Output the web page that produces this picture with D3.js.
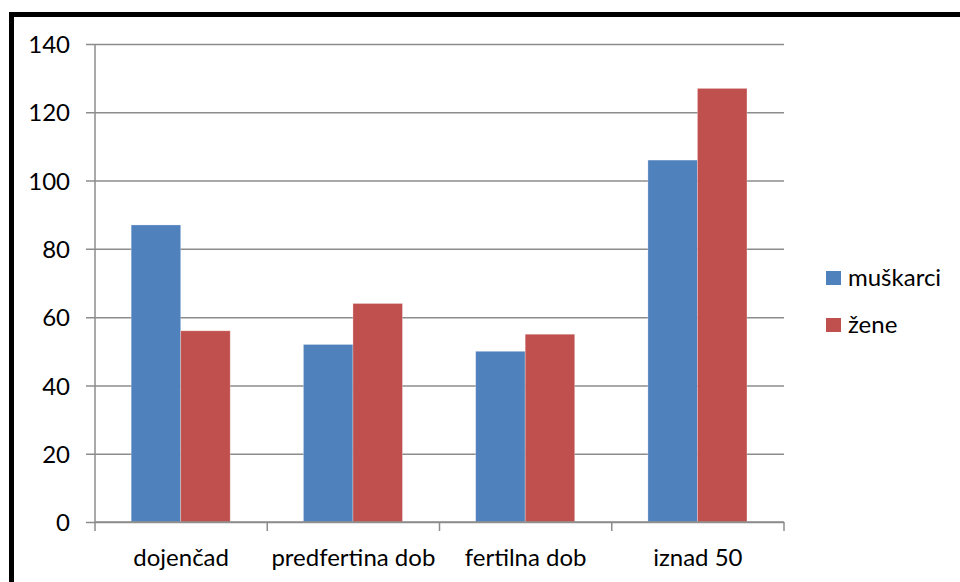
<!DOCTYPE html>
<html>
<head>
<meta charset="utf-8">
<script src="https://cdn.jsdelivr.net/npm/d3@7"></script>
<style>
  body { margin: 0; background: #fff; }
  svg { display: block; }
  text { font-family: Lato, "Open Sans", sans-serif; fill: #000; }
</style>
</head>
<body>
<svg id="chart" width="960" height="582"></svg>
<script>
// data
var categories = ["dojenčad", "predfertina dob", "fertilna dob", "iznad 50"];
var series = ["muškarci", "žene"];
var muskarci = [87, 52, 50, 106];
var zene = [56, 64, 55, 127];
var yTicks = [0, 20, 40, 60, 80, 100, 120, 140];
var colors = ["#4F81BD", "#C0504D"];

var svg = d3.select("#chart");

// outer frame (only top and left edges fall inside the picture)
svg.append("rect")
  .attr("x", 11.5).attr("y", 14.5)
  .attr("width", 1000).attr("height", 1000)
  .attr("fill", "none").attr("stroke", "#000").attr("stroke-width", 5);

var plot = { left: 95, right: 784, top: 44, bottom: 522 };
var fontSize = 24;

var y = d3.scaleLinear().domain([0, 140]).range([plot.bottom, plot.top]);
var x = d3.scaleBand().domain(categories).range([plot.left, plot.right]).padding(0);
var bw = x.bandwidth();
var x1 = d3.scaleBand().domain(series).range([bw * 0.21, bw * 0.785]).padding(0);

// gridlines + y axis
var yAxis = d3.axisLeft(y).tickValues(yTicks)
  .tickSize(plot.right - plot.left + 9).tickPadding(16);
var gy = svg.append("g")
  .attr("transform", "translate(" + plot.right + ",0)")
  .call(yAxis);
gy.select(".domain").remove();
gy.selectAll(".tick line").attr("stroke", "#8c8c8c").attr("stroke-width", 1.5);
gy.selectAll(".tick text")
  .attr("font-size", fontSize)
  .attr("font-family", "Lato, sans-serif")
  .attr("fill", "#000")
  .attr("dy", "0.36em");

// vertical axis line
svg.append("line")
  .attr("x1", plot.left).attr("x2", plot.left)
  .attr("y1", plot.top).attr("y2", plot.bottom)
  .attr("stroke", "#8c8c8c").attr("stroke-width", 1.5);

// bars
var rows = categories.map(function(c, i) {
  return { cat: c, vals: [muskarci[i], zene[i]] };
});
var groups = svg.append("g").selectAll("g")
  .data(rows)
  .enter().append("g")
    .attr("transform", function(d) { return "translate(" + x(d.cat) + ",0)"; });
groups.selectAll("rect")
  .data(function(d) { return d.vals.map(function(v, j) { return { s: series[j], v: v, j: j }; }); })
  .enter().append("rect")
    .attr("x", function(d) { return x1(d.s); })
    .attr("width", x1.bandwidth())
    .attr("y", function(d) { return y(d.v); })
    .attr("height", function(d) { return plot.bottom - y(d.v); })
    .attr("fill", function(d) { return colors[d.j]; })
    .attr("stroke", "rgba(255,255,255,0.35)")
    .attr("stroke-width", 0.8);

// x axis with ticks at category boundaries
svg.append("line")
  .attr("x1", plot.left).attr("x2", plot.right)
  .attr("y1", plot.bottom).attr("y2", plot.bottom)
  .attr("stroke", "#8c8c8c").attr("stroke-width", 1.5);
var bounds = categories.map(function(c) { return x(c); }).concat([plot.right]);
svg.append("g").selectAll("line")
  .data(bounds)
  .enter().append("line")
    .attr("x1", function(d) { return d; }).attr("x2", function(d) { return d; })
    .attr("y1", plot.bottom).attr("y2", plot.bottom + 9)
    .attr("stroke", "#8c8c8c").attr("stroke-width", 1.5);
svg.append("g").selectAll("text")
  .data(categories)
  .enter().append("text")
    .attr("x", function(d) { return x(d) + bw / 2; })
    .attr("y", 566)
    .attr("text-anchor", "middle")
    .attr("font-size", fontSize)
    .text(function(d) { return d; });

// legend
var legend = svg.append("g").selectAll("g")
  .data(series)
  .enter().append("g")
    .attr("transform", function(d, i) { return "translate(826," + (271 + i * 47) + ")"; });
legend.append("rect")
  .attr("width", 15).attr("height", 14)
  .attr("fill", function(d, i) { return colors[i]; });
legend.append("text")
  .attr("x", 22).attr("y", 15)
  .attr("font-size", fontSize)
  .text(function(d) { return d; });
</script>
</body>
</html>
